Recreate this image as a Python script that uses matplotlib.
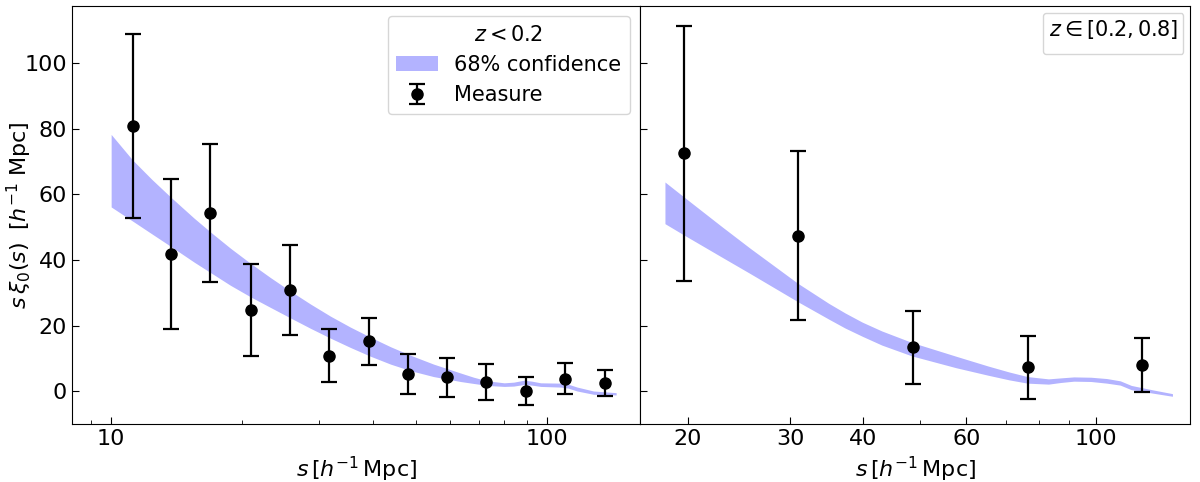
import numpy as np
import matplotlib
matplotlib.use("Agg")
import matplotlib.pyplot as plt
from matplotlib.ticker import ScalarFormatter, NullFormatter, FixedLocator
from matplotlib.patches import Patch

# ---- low-z panel data ----
s_low = [11.2, 13.7, 16.9, 20.9, 25.7, 31.6, 39.0, 48.0, 59.1, 72.7, 89.5, 110.0, 136.0]
xi_low = [80.8, 41.8, 54.4, 24.8, 30.9, 10.9, 15.2, 5.2, 4.3, 2.9, 0.2, 3.9, 2.5]
err_low = [28.1, 22.8, 21.0, 14.0, 13.8, 8.0, 7.1, 6.1, 6.0, 5.4, 4.3, 4.7, 4.0]

band_s_low = [10.0, 11.2, 12.4, 13.7, 15.5, 17.0, 18.8, 20.9, 23.2, 25.7, 28.7, 31.9,
              35.4, 39.4, 43.8, 48.7, 55.0, 63.4, 68.0, 73.1, 79.9, 84.0, 88.8, 92.5,
              96.9, 107.6, 112.0, 117.5, 128.2, 144.4]
band_hi_low = [78.3, 70.5, 64.6, 59.2, 52.8, 48.3, 43.6, 39.0, 34.7, 30.7, 26.6, 22.9,
               19.6, 16.5, 13.6, 11.0, 8.3, 5.6, 4.3, 3.2, 2.6, 2.8, 3.4, 3.1,
               2.6, 2.5, 2.2, 1.3, 0.1, -0.4]
band_lo_low = [56.2, 51.9, 48.0, 44.2, 39.4, 36.0, 32.3, 28.8, 25.6, 22.5, 19.2, 16.2,
               13.4, 10.7, 8.3, 6.3, 4.5, 3.0, 2.4, 1.8, 1.5, 1.6, 2.1, 1.9,
               1.5, 1.3, 1.0, 0.1, -0.9, -1.1]

# ---- mid-z panel data ----
s_mid = [19.7, 30.9, 48.6, 76.4, 120.0]
xi_mid = [72.5, 47.4, 13.4, 7.4, 8.1]
err_mid = [38.8, 25.7, 11.2, 9.6, 8.3]

band_s_mid = [18.3, 19.7, 22.9, 25.6, 30.9, 34.9, 37.2, 39.8, 43.0, 48.4, 57.6, 65.4,
              71.0, 76.3, 82.9, 87.0, 91.6, 98.0, 104.3, 110.0, 114.9, 124.6, 135.1]
band_hi_mid = [63.8, 59.3, 50.2, 43.6, 32.9, 26.8, 23.9, 21.1, 18.4, 14.9, 10.7, 7.7,
               5.9, 4.5, 3.8, 4.1, 4.4, 4.3, 3.9, 3.2, 1.8, 0.5, -0.7]
band_lo_mid = [51.1, 47.7, 40.9, 35.9, 27.3, 22.0, 19.3, 16.8, 14.1, 10.8, 7.2, 4.9,
               3.5, 2.5, 2.2, 2.7, 3.1, 3.0, 2.5, 1.9, 0.5, -0.5, -1.5]

plt.rcParams['font.family'] = ['DejaVu Sans']
plt.rcParams['mathtext.fontset'] = 'dejavusans'

fig = plt.figure(figsize=(12, 4.82), dpi=100)
gs = fig.add_gridspec(1, 2, width_ratios=[568, 550], wspace=0,
                      left=0.06, right=0.992, top=0.988, bottom=0.12)
ax1 = fig.add_subplot(gs[0])
ax2 = fig.add_subplot(gs[1], sharey=ax1)

band_color = (0.7, 0.7, 1.0)

for ax, bs, blo, bhi, s, xi, err in [
        (ax1, band_s_low, band_lo_low, band_hi_low, s_low, xi_low, err_low),
        (ax2, band_s_mid, band_lo_mid, band_hi_mid, s_mid, xi_mid, err_mid)]:
    ax.fill_between(bs, blo, bhi, color=band_color, linewidth=0, label='68% confidence')
    ax.errorbar(s, xi, yerr=err, fmt='o', color='black', markersize=8,
                capsize=6, elinewidth=1.6, capthick=1.6, label='Measure')
    ax.set_xscale('log')
    ax.tick_params(which='both', direction='in', labelsize=16)
    ax.tick_params(which='major', length=5)
    ax.tick_params(which='minor', length=3)
    ax.set_xlabel(r'$s\,[h^{-1}\,\mathrm{Mpc}]$', fontsize=16, labelpad=4)

ax1.set_xlim(8.13, 164)
ax1.set_ylim(-10, 117.5)
ax1.set_yticks([0, 20, 40, 60, 80, 100])
ax1.xaxis.set_major_formatter(ScalarFormatter())
ax1.xaxis.set_minor_formatter(NullFormatter())
ax1.set_ylabel(r'$s\,\xi_0(s)\;\;[h^{-1}\;\mathrm{Mpc}]$', fontsize=16)
ax1.yaxis.set_label_coords(-0.067, 0.5)

ax2.set_xlim(16.6, 145)
ax2.xaxis.set_major_locator(FixedLocator([20, 30, 40, 60, 100]))
ax2.xaxis.set_major_formatter(ScalarFormatter())
ax2.xaxis.set_minor_locator(FixedLocator([50, 70, 80, 90]))
ax2.xaxis.set_minor_formatter(NullFormatter())
ax2.tick_params(axis='y', labelleft=False)

leg1 = ax1.legend(handles=[Patch(facecolor=band_color, edgecolor='none'),
                           ax1.containers[0]],
                  labels=['68% confidence', 'Measure'],
                  title=r'$z<0.2$', loc='upper right', fontsize=15, title_fontsize=15)
leg2 = ax2.legend(handles=[], title=r'$z\in[0.2,0.8]$', loc='upper right',
                  title_fontsize=15)

fig.savefig('out.png', dpi=100)
